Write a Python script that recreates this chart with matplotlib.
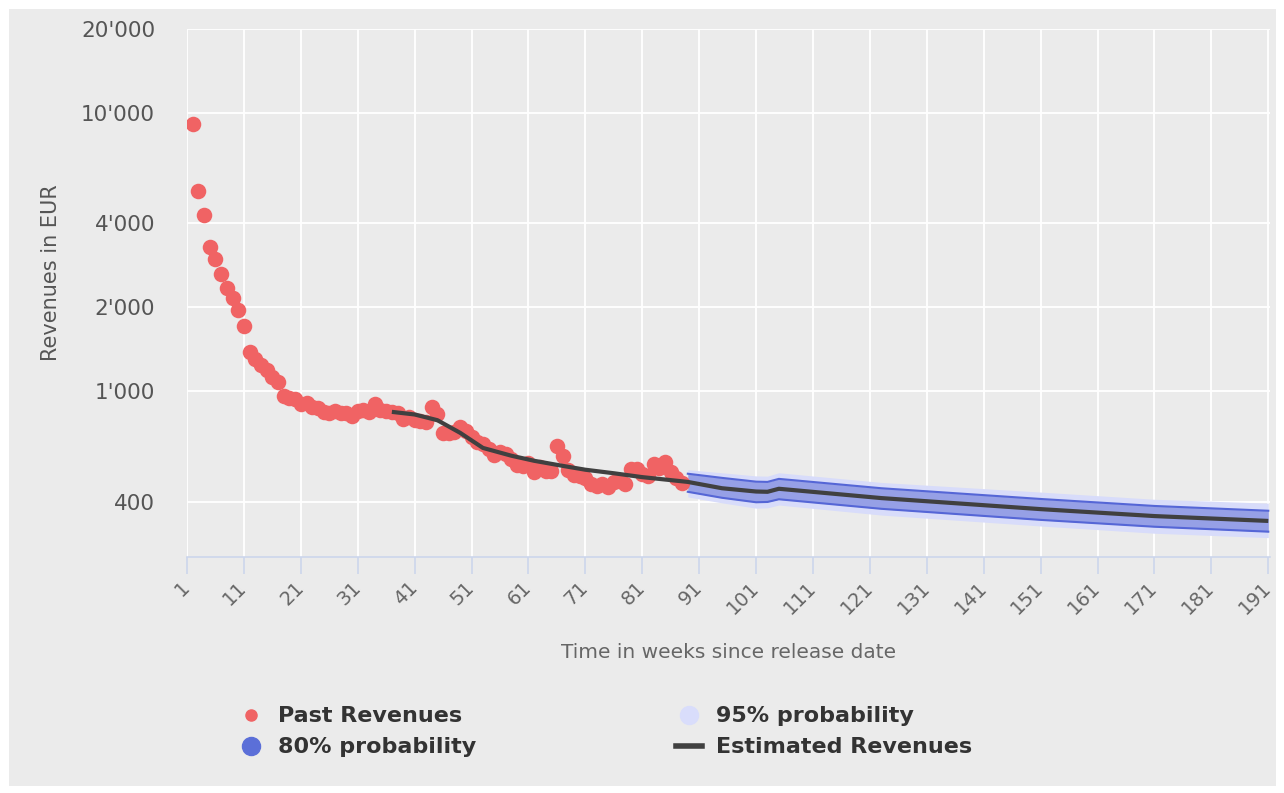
import matplotlib
matplotlib.use('Agg')
import matplotlib.pyplot as plt
from matplotlib.lines import Line2D
from matplotlib.patches import Rectangle
import numpy as np

# past weekly revenues (weeks 2..88)
past_weeks = np.arange(2, 89)
past_rev = [9100, 5250, 4300, 3300, 2985, 2630, 2345, 2160, 1950, 1710,
            1380, 1300, 1235, 1185, 1120, 1075, 963, 947, 939, 894,
            902, 879, 865, 843, 836, 850, 836, 836, 816, 850,
            857, 843, 894, 857, 850, 843, 836, 796, 809, 789,
            783, 776, 872, 823, 708, 708, 714, 744, 720, 685,
            657, 642, 620, 590, 605, 595, 571, 543, 539, 553,
            512, 535, 516, 516, 636, 585, 520, 499, 495, 487,
            464, 456, 464, 452, 470, 474, 464, 524, 524, 503,
            495, 548, 529, 557, 512, 487, 467]

# estimated revenue curve
est_weeks = [37, 41, 45, 49, 53, 58, 62, 67, 71, 76, 81, 89, 95, 101, 103, 105, 123, 151, 171, 191]
est_rev = [841, 823, 785, 707, 624, 585, 561, 538, 521, 506, 490, 471, 447, 435, 434, 445, 412, 376, 355, 341]

# forecast bands
band_weeks = [89, 95, 101, 103, 105, 123, 151, 171, 191]
p80_hi = [504, 487, 472, 471, 483, 447, 409, 386, 371]
p80_lo = [434, 413, 398, 399, 408, 377, 344, 325, 312]
p95_hi = [521, 508, 495, 494, 508, 469, 433, 408, 395]
p95_lo = [416, 396, 379, 380, 389, 358, 327, 308, 297]

y_ticks = [400, 1000, 2000, 4000, 10000, 20000]
y_labels = ["400", "1'000", "2'000", "4'000", "10'000", "20'000"]
x_ticks = list(range(1, 192, 10))

bg = '#ebebeb'
fig = plt.figure(figsize=(12.84, 7.93), dpi=100)
fig.patch.set_facecolor('white')
fig.patches.append(Rectangle((9/1284, 7/793), (1276-9)/1284, (784-7)/793,
                             transform=fig.transFigure, facecolor=bg,
                             edgecolor='none', zorder=-10))

ax = fig.add_axes([187/1284, (793-557)/793, (1270-187)/1284, (557-29)/793])
ax.set_facecolor(bg)

ax.fill_between(band_weeks, p95_lo, p95_hi, color='#d8dcfa', lw=0, zorder=2)
ax.fill_between(band_weeks, p80_lo, p80_hi, color='#96a0e6', lw=0, zorder=3)
ax.plot(band_weeks, p80_hi, color='#5566d6', lw=1.5, zorder=4)
ax.plot(band_weeks, p80_lo, color='#5566d6', lw=1.5, zorder=4)
ax.scatter(past_weeks, past_rev, s=125, color='#f06364', lw=0, zorder=5)
ax.plot(est_weeks, est_rev, color='#404040', lw=3, zorder=6, solid_capstyle='butt')

ax.set_yscale('log')
ax.set_ylim(253, 20000)
ax.set_xlim(1, 191.3)
ax.yaxis.set_major_locator(matplotlib.ticker.FixedLocator(y_ticks))
ax.yaxis.set_major_formatter(matplotlib.ticker.FixedFormatter(y_labels))
ax.yaxis.set_minor_locator(matplotlib.ticker.NullLocator())
ax.set_xticks(x_ticks)
ax.set_xticklabels([str(t) for t in x_ticks], rotation=45, ha='right',
                   va='center', rotation_mode='anchor')

ax.grid(True, color='white', lw=1.3, zorder=0)
ax.set_axisbelow(True)
for s in ['left', 'top', 'right']:
    ax.spines[s].set_visible(False)
ax.spines['bottom'].set_color('#ccd6eb')
ax.spines['bottom'].set_linewidth(1.2)
ax.tick_params(axis='y', length=0, pad=23, labelsize=15.5, labelcolor='#555555')
ax.tick_params(axis='x', length=12, width=1.2, color='#ccd6eb', pad=8,
               labelsize=14, labelcolor='#666666')

ax.set_ylabel('Revenues in EUR', fontsize=15, color='#555555')
ax.yaxis.set_label_coords(-0.1163, 0.538)
ax.set_xlabel('Time in weeks since release date', fontsize=14.5, color='#666666', labelpad=18)

handles = [Line2D([], [], marker='o', ls='', color='#f06364', markersize=8),
           Line2D([], [], marker='o', ls='', color='#5b6fd8', markersize=13),
           Line2D([], [], marker='o', ls='', color='#d9ddfb', markersize=13),
           Line2D([], [], color='#404040', lw=4)]
labels = ['Past Revenues', '80% probability', '95% probability', 'Estimated Revenues']
ax.legend(handles, labels, ncol=2, loc='center', bbox_to_anchor=(0.471, 0.077),
          bbox_transform=fig.transFigure, frameon=False,
          prop=dict(weight='bold', size=16), labelcolor='#333333',
          columnspacing=9.0, handlelength=1.2, handletextpad=0.6, labelspacing=0.5)

fig.savefig('out.png', dpi=100)
